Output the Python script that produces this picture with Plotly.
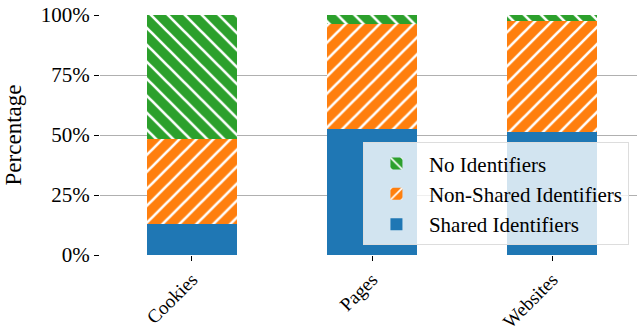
import plotly.graph_objects as go

categories = ["Cookies", "Pages", "Websites"]
shared = [12.8, 52.5, 51.1]
non_shared = [35.4, 43.6, 46.5]
no_ident = [51.8, 3.9, 2.4]
y_ticks = [0, 25, 50, 75, 100]
y_tick_labels = ["0%", "25%", "50%", "75%", "100%"]

BLUE = "#1f77b4"
ORANGE = "#ff7f0e"
GREEN = "#2ca02c"
FONT = "Liberation Serif"

fig = go.Figure()
fig.add_trace(go.Bar(
    x=categories, y=shared, name="Shared Identifiers",
    marker=dict(color=BLUE, line=dict(width=0)), width=0.5,
))
fig.add_trace(go.Bar(
    x=categories, y=non_shared, name="Non-Shared Identifiers",
    marker=dict(color=ORANGE, line=dict(width=0),
                pattern=dict(shape="/", fgcolor="white", bgcolor=ORANGE,
                             size=12, solidity=0.22, fillmode="replace")),
    width=0.5,
))
fig.add_trace(go.Bar(
    x=categories, y=no_ident, name="No Identifiers",
    marker=dict(color=GREEN, line=dict(width=0),
                pattern=dict(shape="\\", fgcolor="white", bgcolor=GREEN,
                             size=12, solidity=0.22, fillmode="replace")),
    width=0.5,
))

fig.update_layout(
    template="none",
    barmode="stack",
    width=637, height=333,
    margin=dict(l=100, r=0, t=15, b=78, autoexpand=False),
    paper_bgcolor="white", plot_bgcolor="white",
    font=dict(family=FONT, size=20, color="black"),
    showlegend=True,
    legend=dict(
        x=0.985, y=0.04, xanchor="right", yanchor="bottom",
        traceorder="reversed",
        bgcolor="rgba(255,255,255,0.8)",
        bordercolor="#dddddd", borderwidth=1,
        font=dict(family=FONT, size=21, color="black"),
        itemwidth=55,
        tracegroupgap=0,
    ),
    xaxis=dict(
        range=[-0.51, 2.47],
        tickangle=-45,
        automargin=False,
        ticks="outside", ticklen=5, tickcolor="black",
        showgrid=False, showline=False, zeroline=False,
        tickfont=dict(family=FONT, size=19, color="black"),
    ),
    yaxis=dict(
        range=[0, 100],
        automargin=False,
        tickvals=y_ticks, ticktext=y_tick_labels,
        ticks="outside", ticklen=5, tickcolor="black",
        showgrid=True, gridcolor="#b0b0b0", gridwidth=1,
        showline=False, zeroline=False,
        tickfont=dict(family=FONT, size=21, color="black"),
        title=dict(text="Percentage", font=dict(family=FONT, size=23, color="black"), standoff=12),
    ),
)

fig.write_html("out.html")
